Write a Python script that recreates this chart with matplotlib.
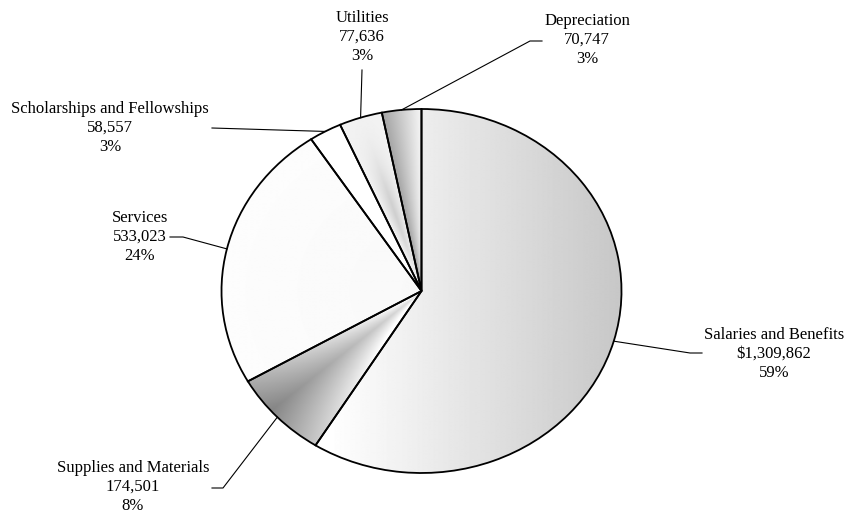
import numpy as np
import matplotlib.pyplot as plt

# Expense categories, clockwise from 12 o'clock
categories = ["Salaries and Benefits", "Supplies and Materials", "Services",
              "Scholarships and Fellowships", "Utilities", "Depreciation"]
amounts = [1309862, 174501, 533023, 58557, 77636, 70747]
currency_first = [True, False, False, False, False, False]

# Label layout in pixels (text block centre, elbow points of the leader line)
LABEL_POS = [(774, 354), (133, 487), (140, 237), (110, 128), (362, 37), (587, 40)]
ELBOWS = [
    [(702, 353), (690, 353)],
    [(212, 488), (223, 488)],
    [(170, 237), (183, 237)],
    [(212, 128)],
    [(362, 70)],
    [(542, 41), (530, 41)],
]

W, H = 847, 514
CX, CY = 421.5, 291.0      # pie centre in pixels (from top)
RX, RY = 200.0, 182.0      # pixel radii -> slightly flattened pie

plt.rcParams["font.family"] = ["Liberation Serif", "DejaVu Serif"]


def px(xp, yp):
    """Pixel position (origin top-left) to data coords."""
    return (xp - CX) / RX, (CY - yp) / RY


def shade(i, x, y, t, r):
    """Grey level for each wedge's gradient fill."""
    if i == 0:
        return 0.93 - 0.15 * x
    if i == 1:
        d = t - 0.4
        base = 0.52 + 0.38 * (1 - r)
        return base + np.where(d < 0, 0.4, 0.45) * np.abs(d)
    if i == 2:
        return 0.975 + 0.015 * r
    if i == 3:
        return np.ones_like(x)
    if i == 4:
        band = np.exp(-((r - 0.45) / 0.3) ** 2) * (1 - 2 * np.abs(t - 0.5))
        return 0.95 - 0.14 * band
    return 0.97 - 0.32 * t


fig = plt.figure(figsize=(W / 100, H / 100), dpi=100)
ax = fig.add_axes([0, 0, 1, 1])

wedges, _ = ax.pie(amounts, startangle=90, counterclock=False,
                   wedgeprops=dict(edgecolor="black", linewidth=1.3,
                                   facecolor="none"))

n = 400
gx, gy = np.meshgrid(np.linspace(-1, 1, n), np.linspace(-1, 1, n))
gr = np.hypot(gx, gy)
gphi = np.degrees(np.arctan2(gy, gx))

for i, w in enumerate(wedges):
    span = w.theta2 - w.theta1
    t = np.clip(((gphi - w.theta1) % 360) / span, 0, 1)
    g = np.clip(shade(i, gx, gy, t, gr), 0, 1)
    im = ax.imshow(g, extent=(-1, 1, -1, 1), origin="lower", cmap="gray",
                   vmin=0, vmax=1, aspect="auto", zorder=1,
                   interpolation="bilinear")
    im.set_clip_path(w)
    w.set_zorder(2)

total = sum(amounts)
for i, w in enumerate(wedges):
    mid = np.radians((w.theta1 + w.theta2) / 2)
    edge = (np.cos(mid), np.sin(mid))
    pts = [edge] + [px(*p) for p in reversed(ELBOWS[i])]
    xs, ys = zip(*pts)
    ax.plot(xs, ys, color="black", linewidth=0.8, zorder=3)

    pct = round(amounts[i] / total * 100)
    value = f"{amounts[i]:,}"
    if currency_first[i]:
        value = "$" + value
    tx, ty = px(*LABEL_POS[i])
    ax.text(tx, ty, f"{categories[i]}\n{value}\n{pct}%", ha="center",
            va="center", multialignment="center", fontsize=12,
            linespacing=1.22, color="black", zorder=4)

ax.set_aspect("auto")
ax.set_xlim(px(0, 0)[0], px(W, 0)[0])
ax.set_ylim(px(0, H)[1], px(0, 0)[1])
ax.axis("off")

fig.savefig("out.png", dpi=100, facecolor="white")
